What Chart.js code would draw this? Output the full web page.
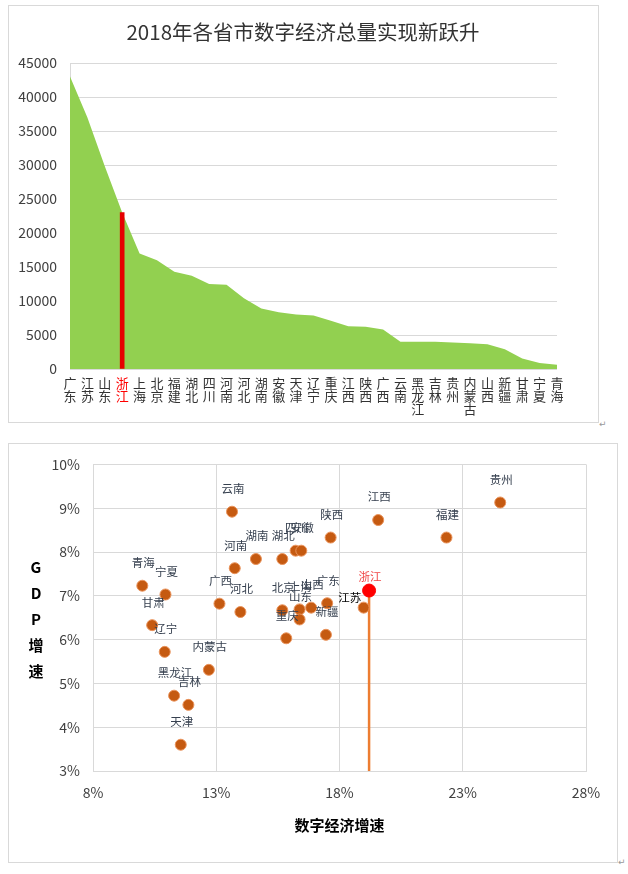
<!DOCTYPE html>
<html><head><meta charset="utf-8">
<script src="https://cdn.jsdelivr.net/npm/chart.js@4.4.1/dist/chart.umd.min.js"></script>
<style>
html,body{margin:0;padding:0;background:#fff;width:628px;height:874px;overflow:hidden;}
.box{position:absolute;border:1px solid #d9d9d9;box-sizing:border-box;}
canvas{position:absolute;}
.mark{position:absolute;font:9px "DejaVu Sans",sans-serif;color:#999;line-height:9px;}
</style></head><body>
<div class="box" style="left:8px;top:5px;width:591px;height:418px"></div>
<canvas id="c1" width="590" height="417" style="left:8px;top:5px"></canvas>
<div class="box" style="left:8px;top:443px;width:610px;height:420px"></div>
<canvas id="c2" width="609" height="419" style="left:8px;top:443px"></canvas>
<span class="mark" style="left:599px;top:420px">↵</span>
<span class="mark" style="left:618px;top:858px">↵</span>
<script>
// ---------- Data: chart 1 (digital economy total, 2018) ----------
const provinces = ['广东','江苏','山东','浙江','上海','北京','福建','湖北','四川','河南','河北','湖南','安徽','天津','辽宁','重庆','江西','陕西','广西','云南','黑龙江','吉林','贵州','内蒙古','山西','新疆','甘肃','宁夏','青海'];
const digitalEconomy = [43000,37000,29800,23000,17000,16000,14300,13700,12500,12400,10400,8900,8350,8000,7850,7100,6300,6200,5800,4000,4000,4000,3900,3800,3650,2900,1550,870,630];
const highlightProvince = '浙江';
const yMin1 = 0, yMax1 = 45000, yStep1 = 5000;
const title1 = '2018年各省市数字经济总量实现新跃升';

// ---------- Data: chart 2 (digital economy growth vs GDP growth) ----------
const scatterNames = ['云南','河南','湖南','湖北','四川','安徽','陕西','江西','福建','贵州','青海','宁夏','甘肃','辽宁','内蒙古','黑龙江','吉林','天津','广西','河北','北京','上海','山西','广东','山东','重庆','新疆','江苏','浙江'];
const digitalGrowth = [13.64,13.75,14.61,15.68,16.22,16.45,17.64,19.57,22.34,24.52,10.0,10.94,10.40,10.91,12.70,11.29,11.87,11.56,13.13,13.98,15.68,16.38,16.85,17.50,16.38,15.84,17.45,18.98,19.20];
const gdpGrowth = [8.92,7.63,7.84,7.84,8.03,8.03,8.33,8.73,8.33,9.13,7.23,7.03,6.33,5.72,5.31,4.72,4.51,3.60,6.82,6.63,6.67,6.69,6.73,6.83,6.46,6.03,6.11,6.73,7.12];
const xMin2 = 8, xMax2 = 28, xStep2 = 5;
const yMin2 = 3, yMax2 = 10, yStep2 = 1;
const xTitle2 = '数字经济增速';
const yTitle2 = ['G','D','P','增','速'];

const F = '"Noto Sans CJK SC", "Noto Sans", sans-serif';

// title drawn centred on the whole canvas
const centerTitlePlugin = {
  id: 'centerTitle',
  afterDraw(chart, args, opts) {
    const ctx = chart.ctx;
    ctx.save();
    ctx.font = '20.5px ' + F;
    ctx.fillStyle = '#333';
    ctx.textAlign = 'center';
    ctx.textBaseline = 'middle';
    ctx.fillText(opts.text, chart.width / 2, opts.y);
    ctx.restore();
  }
};

// ---------- Chart 1 ----------
new Chart(document.getElementById('c1'), {
  type: 'bar',
  data: {
    labels: provinces.map(p => p.split('')),
    datasets: [
      { type: 'bar', data: digitalEconomy.map((v, i) => provinces[i] === highlightProvince ? v : null),
        backgroundColor: '#e60000', barThickness: 4, order: 0 },
      { type: 'line', data: digitalEconomy, fill: 'origin', backgroundColor: '#92d050',
        borderWidth: 0, pointRadius: 0, tension: 0, order: 1 }
    ]
  },
  options: {
    responsive: false, animation: false,
    layout: { padding: { left: 0, right: 41, top: 58, bottom: 0 } },
    plugins: {
      legend: { display: false }, tooltip: { enabled: false },
      centerTitle: { text: title1, y: 27 }
    },
    scales: {
      x: {
        offset: false, grid: { display: false, drawTicks: false }, border: { display: false },
        ticks: { autoSkip: false, maxRotation: 0, minRotation: 0, padding: 8,
                 font: { size: 13, family: F, lineHeight: '12.8px' },
                 color: ctx => provinces[ctx.index] === highlightProvince ? '#ff0000' : '#333333' },
        afterFit(s) { s.height = 53; }
      },
      y: {
        min: yMin1, max: yMax1,
        ticks: { stepSize: yStep1, padding: 13, font: { size: 14, family: F }, color: '#404040',
                 callback: v => String(v) },
        grid: { color: '#d9d9d9', drawTicks: false },
        border: { display: true, color: '#d9d9d9' },
        afterFit(s) { s.width = 62; }
      }
    }
  },
  plugins: [centerTitlePlugin]
});

// ---------- Chart 2 ----------
const hlIndex = scatterNames.indexOf(highlightProvince);
const labelStyle = { color: '#36404f', font: '11.5px ' + F, dx: 1, dy: -23 };
const labelOverrides = {
  '江苏': { dx: -14, dy: -10, color: '#000000' },
  '浙江': { dx: 1, dy: -14, color: '#f04545' }
};

const scatterLabelPlugin = {
  id: 'scatterLabels',
  afterDatasetsDraw(chart) {
    const meta = chart.getDatasetMeta(0);
    const ctx = chart.ctx;
    ctx.save();
    ctx.font = labelStyle.font;
    ctx.textAlign = 'center';
    ctx.textBaseline = 'middle';
    meta.data.forEach((pt, i) => {
      const name = scatterNames[i];
      const o = Object.assign({}, labelStyle, labelOverrides[name] || {});
      ctx.fillStyle = o.color;
      ctx.fillText(name, pt.x + o.dx, pt.y + o.dy);
    });
    ctx.restore();
  }
};

const yTitlePlugin = {
  id: 'yTitleStack',
  afterDraw(chart) {
    const ctx = chart.ctx, a = chart.chartArea;
    const cy = (a.top + a.bottom) / 2 + 2, gap = 26;
    ctx.save();
    ctx.font = 'bold 15px ' + F;
    ctx.fillStyle = '#000';
    ctx.textAlign = 'center';
    ctx.textBaseline = 'middle';
    yTitle2.forEach((ch, i) => {
      ctx.fillText(ch, 28, cy + (i - (yTitle2.length - 1) / 2) * gap);
    });
    ctx.restore();
  }
};

new Chart(document.getElementById('c2'), {
  type: 'scatter',
  data: {
    datasets: [
      { data: scatterNames.map((n, i) => ({ x: digitalGrowth[i], y: gdpGrowth[i] })),
        pointBackgroundColor: scatterNames.map(n => n === highlightProvince ? '#ff0000' : '#c55a11'),
        pointBorderColor: scatterNames.map(n => n === highlightProvince ? '#ff0000' : '#e9925a'),
        pointBorderWidth: 1,
        pointRadius: scatterNames.map(n => n === highlightProvince ? 6.5 : 5.5),
        order: 0 },
      { type: 'line', data: [{ x: digitalGrowth[hlIndex], y: gdpGrowth[hlIndex] }, { x: digitalGrowth[hlIndex], y: yMin2 }],
        borderColor: '#ed7d31', borderWidth: 2.5, pointRadius: 0, showLine: true, fill: false, order: 1 }
    ]
  },
  options: {
    responsive: false, animation: false,
    layout: { padding: { left: 0, right: 31, top: 19, bottom: 0 } },
    plugins: { legend: { display: false }, tooltip: { enabled: false } },
    scales: {
      x: {
        type: 'linear', min: xMin2, max: xMax2,
        ticks: { stepSize: xStep2, padding: 13, font: { size: 14, family: F }, color: '#404040', callback: v => v + '%' },
        grid: { color: '#d9d9d9', drawTicks: false },
        border: { display: true, color: '#d9d9d9' },
        title: { display: true, text: xTitle2, color: '#000', font: { size: 15, weight: 'bold', family: F }, padding: { top: 0, bottom: 28 } },
        afterFit(s) { s.height = 91; }
      },
      y: {
        min: yMin2, max: yMax2,
        ticks: { stepSize: yStep2, padding: 13, font: { size: 14, family: F }, color: '#404040', callback: v => v + '%' },
        grid: { color: '#d9d9d9', drawTicks: false },
        border: { display: true, color: '#d9d9d9' },
        afterFit(s) { s.width = 85; }
      }
    }
  },
  plugins: [scatterLabelPlugin, yTitlePlugin]
});
</script>
</body></html>
